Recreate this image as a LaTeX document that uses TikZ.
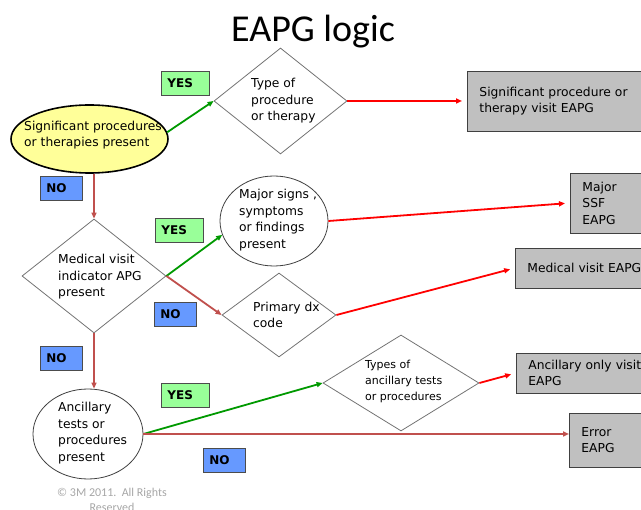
\documentclass[tikz,border=0pt]{standalone}
\usepackage{fontspec}
\setmainfont{DejaVu Sans}
\newfontfamily\slidefont{Carlito}
\usetikzlibrary{shapes.geometric,arrows.meta}
\definecolor{qyellow}{HTML}{FFFF99}
\definecolor{yesgreen}{HTML}{99FF99}
\definecolor{noblue}{HTML}{6699FF}
\definecolor{resgray}{HTML}{C0C0C0}
\definecolor{flowgreen}{HTML}{009900}
\definecolor{flowred}{HTML}{FF0000}
\definecolor{flowbrown}{HTML}{C0504D}
\begin{document}
\begin{tikzpicture}[x=1pt,y=-1pt,
    every node/.style={font=\fontsize{12.3}{16.5}\selectfont, align=left, inner sep=0pt},
    ask/.style={diamond, draw=black!55, line width=0.8pt},
    cond/.style={ellipse, draw=black!75, line width=0.8pt},
    result/.style={draw=black!75, fill=resgray, line width=0.9pt, anchor=west, inner xsep=12pt},
    tag/.style={draw=black!70, line width=0.9pt, anchor=north west, inner xsep=6pt,
        minimum height=24pt, font=\bfseries\fontsize{12}{14}\selectfont},
    yes/.style={tag, fill=yesgreen, text width=36pt},
    no/.style={tag, fill=noblue, text width=30pt},
    flow/.style={-{Triangle[length=6pt,width=5pt]}, line width=1.8pt},
    yesflow/.style={flow, flowgreen},
    noflow/.style={flow, flowbrown},
    resflow/.style={flow, flowred, shorten >=5pt}]
    \useasboundingbox (0,0) rectangle (641,510);
    \clip (0,0) rectangle (641,510);

    \node[anchor=base, font=\slidefont\fontsize{38}{40}\selectfont] (title) at (313,42) {EAPG logic};

    \node[cond, fill=qyellow, draw=black, line width=1.6pt, minimum width=157pt, minimum height=68pt] (sig) at (89.5,139) {};
    \node[anchor=west] (sigtext) at (24,135) {Significant procedures\\or therapies present};
    \node[yes] (yes1) at (161,71) {YES};
    \node[ask, minimum width=133pt, minimum height=106pt] (kind) at (280.5,101) {};
    \node[anchor=west] (kindtext) at (251,101) {Type of\\procedure\\or therapy};
    \node[result, text width=169pt, minimum height=60pt] (sigres) at (467,101) {Significant procedure or\\therapy visit EAPG};

    \node[no] (no1) at (40,176) {NO};
    \node[ask, minimum width=144pt, minimum height=114pt] (med) at (94,276) {};
    \node[anchor=west] (medtext) at (58,277) {Medical visit\\indicator APG\\present};
    \node[yes] (yes2) at (155,218) {YES};
    \node[cond, minimum width=108pt, minimum height=90pt] (ssf) at (274,221) {};
    \node[anchor=west] (ssftext) at (239,220) {Major signs ,\\symptoms\\or findings\\present};
    \node[result, text width=66pt, minimum height=60pt] (ssfres) at (570,203) {Major\\SSF\\EAPG};
    \node[no] (no2) at (154,302) {NO};
    \node[ask, minimum width=114pt, minimum height=84pt] (dx) at (279,315) {};
    \node[anchor=west] (dxtext) at (253,315) {Primary dx\\code};
    \node[result, text width=121pt, minimum height=40pt] (medres) at (515,268) {Medical visit EAPG};

    \node[no] (no3) at (40,346) {NO};
    \node[cond, minimum width=110pt, minimum height=90pt] (anc) at (88,434) {};
    \node[anchor=west] (anctext) at (58,433) {Ancillary\\tests or\\procedures\\present};
    \node[yes] (yes3) at (161,383) {YES};
    \node[ask, minimum width=156pt, minimum height=96pt] (anckind) at (401,383) {};
    \node[anchor=west, font=\fontsize{11}{16}\selectfont] (anckindtext) at (365,381) {Types of\\ancillary tests\\or procedures};
    \node[result, text width=120pt, minimum height=40pt] (ancres) at (516,373) {Ancillary only visit\\EAPG};
    \node[result, text width=67pt, minimum height=54pt] (errres) at (569,440) {Error\\EAPG};
    \node[no] (no4) at (203,448) {NO};

    \node[anchor=north, align=center, text=black!35, font=\slidefont\fontsize{12}{15}\selectfont] (copy) at (112,488) {© 3M 2011.\ \ All Rights\\Reserved};

    \draw[yesflow] (sig.5) -- (kind.west);
    \draw[resflow] (kind.east) -- (sigres.west);
    \draw[noflow] (med.north |- sig.south) -- (med.north);
    \draw[yesflow] (med.east) -- (ssf.195);
    \draw[resflow] (ssf.east) -- (ssfres.west);
    \draw[noflow] (med.east) -- (dx.west);
    \draw[resflow] (dx.east) -- (medres.west);
    \draw[noflow] (med.south) -- (med.south |- anc.north);
    \draw[yesflow] (anc.east) -- (anckind.west);
    \draw[noflow] (anc.east) -- (anc.east -| errres.west);
    \draw[resflow] (anckind.east) -- (ancres.west);
\end{tikzpicture}
\end{document}
